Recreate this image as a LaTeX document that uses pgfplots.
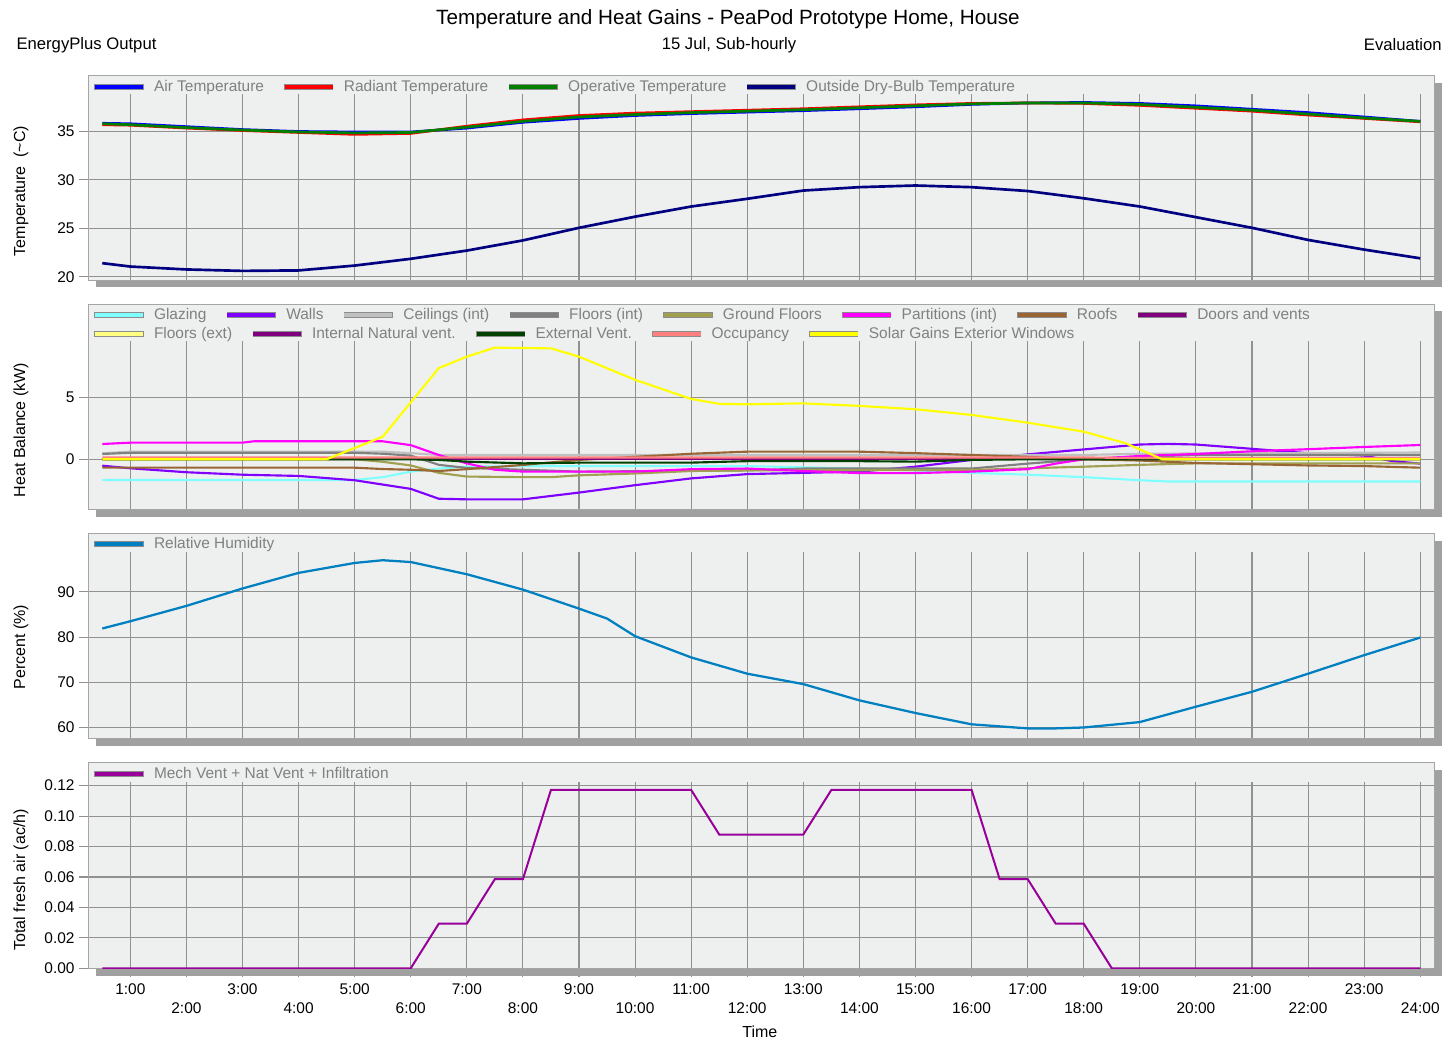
\documentclass[border=0pt]{standalone}
\usepackage{fontspec}
\setmainfont{Liberation Sans}
\usepackage{pgfplots}
\pgfplotsset{compat=1.18}

\definecolor{bgc}{RGB}{238,240,239}
\definecolor{gridc}{RGB}{145,145,145}
\definecolor{framec}{RGB}{165,165,165}
\definecolor{shadowc}{RGB}{160,160,160}
\definecolor{legtext}{RGB}{128,128,128}
\definecolor{legframe}{RGB}{140,140,140}
\definecolor{airc}{RGB}{0,0,255}
\definecolor{radc}{RGB}{255,0,0}
\definecolor{opc}{RGB}{0,128,0}
\definecolor{outc}{RGB}{0,0,128}
\definecolor{glazc}{RGB}{128,255,255}
\definecolor{wallc}{RGB}{128,0,255}
\definecolor{ceilc}{RGB}{192,192,192}
\definecolor{flintc}{RGB}{128,128,128}
\definecolor{groundc}{RGB}{160,160,80}
\definecolor{partc}{RGB}{255,0,255}
\definecolor{roofc}{RGB}{153,102,51}
\definecolor{doorc}{RGB}{128,0,128}
\definecolor{flextc}{RGB}{255,255,128}
\definecolor{intvc}{RGB}{128,0,128}
\definecolor{extvc}{RGB}{0,64,0}
\definecolor{occc}{RGB}{255,128,128}
\definecolor{solc}{RGB}{255,255,0}
\definecolor{rhc}{RGB}{0,128,192}
\definecolor{ventc}{RGB}{153,0,153}

\pgfplotsset{
  legimg/.style={
    legend image code/.code={
      \draw[legframe, line width=4.5pt] (-0.4pt,0) -- (36.4pt,0);
      \draw[##1, line width=3pt] (0pt,0) -- (36pt,0);
    },
  },
  legsty/.style={
    legend style={at={(rel axis cs:0,1)}, anchor=west, xshift=2.2pt,
      draw=none, fill=none, inner sep=0pt,
      font=\fontsize{11.6}{14}\selectfont, text=legtext,
      legend columns=-1,
      /tikz/every odd column/.append style={column sep=3.6pt},
      /tikz/every even column/.append style={column sep=11pt}},
    legend cell align=left,
    legimg,
  },
  panel/.style={
    width=1009.5pt, height=154pt, scale only axis,
    xmin=0.25, xmax=24.25,
    axis background/.style={fill=bgc},
    axis line style={framec, line width=0.75pt},
    grid=major, grid style={gridc, line width=0.8pt},
    xtick={1,...,24}, xticklabels={},
    tick pos=left,
    xmajorticks=false,
    ytick align=outside,
    major tick length=6.75pt,
    tick style={gridc, line width=0.8pt},
    yticklabel style={font=\fontsize{11.6}{14}\selectfont, text=black},
    xticklabel style={font=\fontsize{11.6}{14}\selectfont, text=black},
    /pgf/number format/assume math mode=true,
    every axis y label/.style={rotate=90, anchor=center, font=\fontsize{12}{14}\selectfont},
    legsty,
  },
}

\begin{document}
\begin{tikzpicture}
\useasboundingbox (0,0) rectangle (1087.5pt,-781.5pt);

\node[font=\fontsize{15.5}{18}\selectfont, inner sep=0pt] at (546pt,-14.2pt) {Temperature and Heat Gains - PeaPod Prototype Home, House};
\node[anchor=west, font=\fontsize{12.5}{15}\selectfont, inner sep=0pt] at (12.2pt,-33.7pt) {EnergyPlus Output};
\node[font=\fontsize{12.5}{15}\selectfont, inner sep=0pt] at (546.75pt,-33.7pt) {15 Jul, Sub-hourly};
\node[anchor=east, font=\fontsize{12.5}{15}\selectfont, inner sep=0pt] at (1081.5pt,-33.7pt) {Evaluation};

% ---------------- Panel 1: temperatures
\begin{axis}[panel, name=p1, at={(66.2pt,-56.8pt)}, anchor=north west, height=153.2pt,
  ymin=19.66, ymax=40.76, ytick={20,25,30,35},
  ylabel={Temperature\ \ (\textasciitilde C)},
  ylabel style={at={(axis description cs:-0.05,0.436)}},
  legend style={yshift=-8.2pt}]
\fill[bgc] ([xshift=0.5pt,yshift=-0.5pt]rel axis cs:0,1) rectangle ([xshift=-0.5pt]rel axis cs:1,0.910);
\addplot[airc, line width=2pt] coordinates {(0.5,35.85)(1,35.8)(2,35.5)(3,35.2)(4,35.0)(5,34.95)(6,34.95)(7,35.35)(8,35.95)(9,36.35)(10,36.65)(11,36.85)(12,37.0)(13,37.15)(14,37.35)(15,37.55)(16,37.8)(17,37.95)(18,38.0)(19,37.9)(20,37.65)(21,37.3)(22,36.95)(23,36.5)(24,36.05)};
\addplot[radc, line width=2pt] coordinates {(0.5,35.7)(1,35.65)(2,35.35)(3,35.1)(4,34.9)(5,34.7)(6,34.8)(7,35.55)(8,36.2)(9,36.65)(10,36.9)(11,37.05)(12,37.2)(13,37.35)(14,37.55)(15,37.75)(16,37.9)(17,37.95)(18,37.9)(19,37.7)(20,37.4)(21,37.1)(22,36.7)(23,36.35)(24,36.0)};
\addplot[opc, line width=2pt] coordinates {(0.5,35.8)(1,35.7)(2,35.4)(3,35.15)(4,34.95)(5,34.85)(6,34.9)(7,35.45)(8,36.05)(9,36.5)(10,36.75)(11,36.95)(12,37.1)(13,37.25)(14,37.45)(15,37.65)(16,37.85)(17,37.95)(18,37.95)(19,37.8)(20,37.5)(21,37.2)(22,36.8)(23,36.4)(24,36.05)};
\addplot[outc, line width=2pt] coordinates {(0.5,21.4)(1,21.05)(2,20.75)(3,20.6)(4,20.65)(5,21.15)(6,21.85)(7,22.7)(8,23.75)(9,25.05)(10,26.2)(11,27.25)(12,28.05)(13,28.9)(14,29.25)(15,29.42)(16,29.25)(17,28.85)(18,28.1)(19,27.25)(20,26.15)(21,25.05)(22,23.8)(23,22.8)(24,21.9)};
\legend{Air Temperature, Radiant Temperature, Operative Temperature, Outside Dry-Bulb Temperature}
\end{axis}

% ---------------- Panel 2: heat balance
\begin{axis}[panel, name=p2, at={(66.2pt,-228pt)}, anchor=north west, height=154pt,
  ymin=-4.06, ymax=12.6, ytick={0,5},
  ylabel={Heat Balance (kW)},
  ylabel style={at={(axis description cs:-0.05,0.386)}},
  legend style={yshift=-8pt}]
\fill[bgc] ([xshift=0.5pt,yshift=-0.5pt]rel axis cs:0,1) rectangle ([xshift=-0.5pt]rel axis cs:1,0.820);
\addplot[glazc, line width=1.6pt] coordinates {(0.5,-1.68)(5,-1.68)(5.5,-1.45)(6,-1.0)(6.5,-0.75)(7,-0.6)(8,-0.55)(12,-0.55)(13,-0.65)(14,-0.75)(15,-0.9)(16,-1.1)(17,-1.25)(18,-1.45)(19,-1.7)(19.5,-1.8)(24,-1.8)};
\addplot[wallc, line width=1.6pt] coordinates {(0.5,-0.52)(1,-0.73)(2,-1.05)(3,-1.25)(4,-1.35)(5,-1.7)(6,-2.4)(6.5,-3.2)(7,-3.25)(8,-3.25)(9,-2.7)(10,-2.1)(11,-1.55)(12,-1.2)(13,-1.1)(14,-1.0)(15,-0.6)(16,-0.05)(17,0.4)(18,0.8)(19,1.2)(19.5,1.25)(20,1.2)(21,0.85)(22,0.5)(23,0.3)(23.5,-0.15)(24,-0.35)};
\addplot[ceilc, line width=1.6pt] coordinates {(0.5,0.49)(1,0.62)(5.5,0.62)(6,0.5)(6.5,0.35)(18,0.35)(19,0.45)(24,0.55)};
\addplot[flintc, line width=1.6pt] coordinates {(0.5,0.43)(1,0.53)(5,0.53)(5.5,0.45)(6,0.3)(6.5,-0.45)(7,-0.7)(8,-0.85)(9,-1.0)(12,-0.9)(13,-0.75)(16,-0.75)(17,-0.35)(18,0.0)(19,0.2)(20,0.35)(24,0.35)};
\addplot[groundc, line width=1.6pt] coordinates {(0.5,0.0)(5,0.0)(5.5,-0.2)(6,-0.5)(6.5,-1.1)(7,-1.4)(8,-1.45)(8.5,-1.45)(9,-1.3)(10,-1.15)(11,-0.95)(12,-0.9)(16,-0.87)(17,-0.73)(18,-0.6)(19,-0.45)(20,-0.33)(24,-0.33)};
\addplot[partc, line width=1.6pt] coordinates {(0.5,1.24)(1,1.35)(3,1.35)(3.2,1.46)(5.5,1.46)(6,1.15)(6.5,0.35)(7,-0.33)(7.5,-0.85)(8,-1.0)(10,-1.0)(11,-0.8)(12,-0.75)(13,-0.95)(14,-1.12)(15,-1.12)(16,-1.0)(17,-0.8)(17.5,-0.35)(18,0.0)(19,0.27)(20,0.43)(21,0.65)(22,0.82)(23,1.0)(24,1.16)};
\addplot[roofc, line width=1.6pt] coordinates {(0.5,-0.68)(5,-0.68)(5.5,-0.79)(6,-0.85)(6.5,-0.95)(7,-0.8)(8,-0.46)(9,-0.05)(10,0.2)(11,0.45)(12,0.62)(14,0.62)(15,0.5)(16,0.35)(17,0.2)(18,0.0)(19,-0.1)(20,-0.3)(21,-0.4)(22,-0.5)(23,-0.55)(24,-0.68)};
\addplot[doorc, line width=1.6pt] coordinates {(0.5,0)(24,0)};
\addplot[flextc, line width=1.6pt] coordinates {(0.5,0)(24,0)};
\addplot[intvc, line width=1.6pt] coordinates {(0.5,0)(24,0)};
\addplot[extvc, line width=1.6pt] coordinates {(0.5,0)(6,0)(6.5,-0.05)(7,-0.19)(8,-0.33)(9,-0.27)(11,-0.27)(12,-0.15)(14,-0.15)(15,-0.19)(16,-0.05)(17,0)(24,0)};
\addplot[occc, line width=1.6pt] coordinates {(0.5,0.15)(18,0.15)(19,0.1)(24,0.1)};
\addplot[solc, line width=1.6pt] coordinates {(0.5,0)(4.5,0)(5.5,1.83)(6.5,7.4)(7,8.33)(7.5,9.06)(8.5,9.0)(9,8.33)(10,6.45)(11,4.9)(11.5,4.5)(12,4.46)(13,4.54)(14,4.33)(15,4.06)(16,3.6)(17,2.97)(18,2.24)(18.75,1.3)(19.4,0)(24,0)};
\legend{Glazing, Walls, Ceilings (int), Floors (int), Ground Floors, Partitions (int), Roofs, Doors and vents}
\end{axis}
% second legend row of panel 2
\begin{axis}[legsty, width=1009.5pt, height=154pt, scale only axis, hide axis,
  at={(66.2pt,-228pt)}, anchor=north west,
  xmin=0.25, xmax=24.25, ymin=-4.06, ymax=12.6,
  legend style={yshift=-22.25pt}]
\addlegendimage{flextc, line width=1.6pt}
\addlegendimage{intvc, line width=1.6pt}
\addlegendimage{extvc, line width=1.6pt}
\addlegendimage{occc, line width=1.6pt}
\addlegendimage{solc, line width=1.6pt}
\legend{Floors (ext), Internal Natural vent., External Vent., Occupancy, Solar Gains Exterior Windows}
\end{axis}

% ---------------- Panel 3: relative humidity
\begin{axis}[panel, name=p3, at={(66.2pt,-400pt)}, anchor=north west, height=153.75pt,
  ymin=57.6, ymax=102.95, ytick={60,70,80,90},
  ylabel={Percent (\%)},
  ylabel style={at={(axis description cs:-0.05,0.445)}},
  legend style={yshift=-8pt}]
\fill[bgc] ([xshift=0.5pt,yshift=-0.5pt]rel axis cs:0,1) rectangle ([xshift=-0.5pt]rel axis cs:1,0.910);
\addplot[rhc, line width=1.7pt] coordinates {(0.5,81.9)(1,83.5)(2,86.9)(3,90.75)(4,94.2)(5,96.4)(5.5,97.0)(6,96.6)(7,93.9)(8,90.5)(9,86.3)(9.5,84.1)(10,80.2)(11,75.5)(12,71.9)(13,69.6)(14,66.0)(15,63.2)(16,60.7)(17,59.8)(17.5,59.8)(18,60.0)(19,61.2)(20,64.6)(21,67.9)(22,71.9)(23,76.0)(24,79.9)};
\legend{Relative Humidity}
\end{axis}

% ---------------- Panel 4: fresh air
\begin{axis}[panel, name=p4, at={(66.2pt,-572pt)}, anchor=north west, height=154.2pt,
  ymin=0, ymax=0.1351, ytick={0,0.02,0.04,0.06,0.08,0.10,0.12},
  yticklabel style={/pgf/number format/.cd, fixed, fixed zerofill, precision=2},
  ylabel={Total fresh air (ac/h)},
  ylabel style={at={(axis description cs:-0.05,0.43)}},
  xmajorticks=true,
  xtick={1,3,...,23},
  xticklabels={1:00,3:00,5:00,7:00,9:00,11:00,13:00,15:00,17:00,19:00,21:00,23:00},
  xtick align=outside,
  xticklabel style={yshift=-1.2pt},
  extra x ticks={2,4,...,24},
  extra x tick labels={2:00,4:00,6:00,8:00,10:00,12:00,14:00,16:00,18:00,20:00,22:00,24:00},
  extra x tick style={grid=major, tick label style={yshift=-14.6pt}},
  xlabel={Time},
  xlabel style={at={(axis description cs:0.499,-0.31)}, anchor=center, font=\fontsize{12}{14}\selectfont},
  legend style={yshift=-8.2pt}]
\fill[bgc] ([xshift=0.5pt,yshift=-0.5pt]rel axis cs:0,1) rectangle ([xshift=-0.5pt]rel axis cs:1,0.9076);
\addplot[ventc, line width=1.5pt] coordinates {(0.5,0)(6,0)(6.5,0.0293)(7,0.0293)(7.5,0.0586)(8,0.0586)(8.5,0.1172)(11,0.1172)(11.5,0.0879)(13,0.0879)(13.5,0.1172)(16,0.1172)(16.5,0.0586)(17,0.0586)(17.5,0.0293)(18,0.0293)(18.5,0)(24,0)};
\legend{Mech Vent + Nat Vent + Infiltration}
\end{axis}

% shadows
\foreach \p in {p1,p2,p3,p4}{
  \fill[shadowc] ([xshift=5.6pt,yshift=-0.4pt]\p.south west) rectangle ([xshift=5.6pt,yshift=-5.6pt]\p.south east);
  \fill[shadowc] ([xshift=0.4pt,yshift=-5.6pt]\p.north east) rectangle ([xshift=5.6pt,yshift=-5.6pt]\p.south east);
}
\end{tikzpicture}
\end{document}
